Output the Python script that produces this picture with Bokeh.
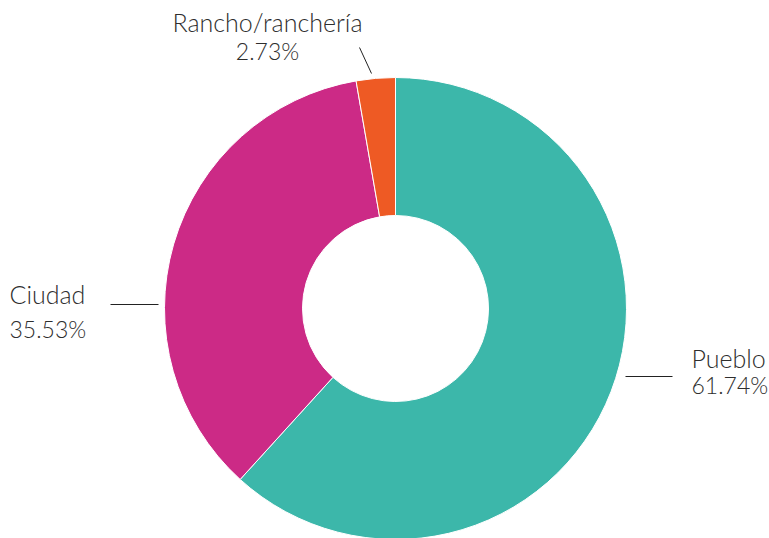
import math
from bokeh.plotting import figure
from bokeh.models import ColumnDataSource
from bokeh.core.properties import value
from bokeh.embed import file_html
from bokeh.resources import INLINE

categories = ["Pueblo", "Ciudad", "Rancho/ranchería"]
percent = [61.74, 35.53, 2.73]
pct_labels = ["61.74%", "35.53%", "2.73%"]
colors = ["#3cb7aa", "#cc2a86", "#ee5a24"]

total = sum(percent)
starts, ends = [], []
acc = 0.0
for v in percent:
    starts.append(math.pi / 2 - 2 * math.pi * acc / total)
    acc += v
    ends.append(math.pi / 2 - 2 * math.pi * acc / total)

W, H = 769, 538
p = figure(width=W, height=H, x_range=(0, W), y_range=(0, H),
           output_backend="svg", toolbar_location=None, min_border=0)
p.axis.visible = False
p.grid.visible = False
p.outline_line_color = None
p.background_fill_color = "white"

cx, cy = 395, 538 - 308
src = ColumnDataSource(dict(start=starts, end=ends, color=colors))
p.annular_wedge(x=cx, y=cy, inner_radius=93, outer_radius=231,
                start_angle="start", end_angle="end", direction="clock",
                fill_color="color", line_color="white", line_width=1, source=src)

font = value("Lato Light")
fs_name = "25px"
fs_pct = "23px"
tc = "#2e2e2e"

def Y(y):
    return 538 - y

def label(x, y, txt, size, align):
    p.text(x=[x], y=[Y(y)], text=[txt], text_font=font, text_font_size=size,
           text_color=tc, text_align=align, text_baseline="alphabetic")

# Pueblo
p.line([625, 672], [Y(376), Y(376)], line_color="#222222", line_width=1)
label(691, 357, categories[0], fs_name, "left")
label(691, 384, pct_labels[0], fs_pct, "left")

# Ciudad
p.line([110, 158], [Y(304), Y(304)], line_color="#222222", line_width=1)
label(9, 293, categories[1], fs_name, "left")
label(9, 328, pct_labels[1], fs_pct, "left")

# Rancho
p.line([359, 371], [Y(47), Y(73)], line_color="#222222", line_width=1)
label(267, 21, categories[2], fs_name, "center")
label(267, 50, pct_labels[2], fs_pct, "center")

open("out.html", "w").write(file_html(p, INLINE))
